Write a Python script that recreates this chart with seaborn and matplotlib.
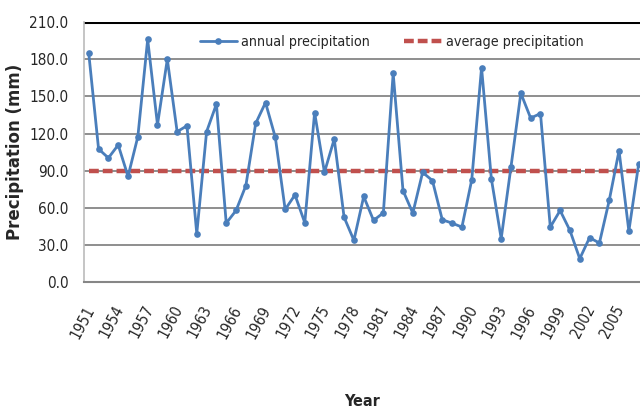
import numpy as np
import pandas as pd
import matplotlib
matplotlib.use("Agg")
import matplotlib.pyplot as plt
import seaborn as sns

years = list(range(1951, 2008))
precip = [184.8, 107.6, 100.3, 110.8, 85.5, 117.5, 196.0, 127.1, 180.0, 121.5,
          126.3, 39.2, 121.5, 143.8, 47.7, 57.9, 78.0, 128.2, 145.0, 116.9,
          58.7, 70.5, 48.0, 137.0, 88.7, 115.6, 52.5, 33.8, 69.2, 49.9,
          56.0, 168.7, 74.0, 55.8, 88.7, 82.0, 50.4, 47.7, 44.5, 82.6,
          173.2, 83.4, 35.2, 93.3, 152.6, 132.5, 136.2, 44.5, 57.9, 41.8,
          19.0, 36.0, 31.6, 66.0, 106.2, 41.3, 95.5]
average = 90.0
y_ticks = [0, 30, 60, 90, 120, 150, 180, 210]
label_years = list(range(1951, 2007, 3))

df = pd.DataFrame({"Year": years, "annual precipitation": precip})
df["average precipitation"] = average

sns.set_style("white")
plt.rcParams['font.family'] = ['DejaVu Sans']
plt.rcParams['font.stretch'] = 'condensed'

fig = plt.figure(figsize=(6.4, 4.09), dpi=100)
ax = fig.add_axes([0.131, 0.31, 0.87, 0.636])

# grid lines
for v in y_ticks[1:-1]:
    ax.axhline(v, color='#868686', lw=1.3, zorder=0)
ax.axhline(210, color='black', lw=2.2, zorder=0)

sns.lineplot(data=df, x="Year", y="average precipitation", ax=ax,
             color='#C0504D', lw=3.2, linestyle=(0, (2.2, 0.9)),
             label="average precipitation", zorder=2)
sns.lineplot(data=df, x="Year", y="annual precipitation", ax=ax,
             color='#4A7EBB', lw=2.0, marker='o', markersize=4.8,
             markeredgewidth=0, label="annual precipitation", zorder=3)

ax.set_xlim(1950.5, 2007.2)
ax.set_ylim(0, 210)
ax.set_yticks(y_ticks)
ax.set_yticklabels([f"{v:.1f}" for v in y_ticks], fontsize=11)
ax.set_xticks([y - 0.5 for y in label_years])
ax.set_xticklabels([str(y) for y in label_years], rotation=62, ha='right',
                   rotation_mode='anchor', fontsize=11)
ax.tick_params(axis='x', direction='out', length=5, color='#868686', pad=10)
ax.tick_params(axis='y', direction='out', length=3, color='#BBBBBB', pad=8)

for s in ['top', 'right']:
    ax.spines[s].set_visible(False)
ax.spines['left'].set_color('#BBBBBB')
ax.spines['left'].set_linewidth(1.2)
ax.spines['bottom'].set_color('#868686')
ax.spines['bottom'].set_linewidth(1.5)

ax.set_xlabel("Year", fontsize=11.5, fontweight='bold', labelpad=38)
ax.set_ylabel("Precipitation (mm)", fontsize=12, fontweight='bold',
              fontstretch='normal', labelpad=4)

h, l = ax.get_legend_handles_labels()
ax.legend(h[::-1], l[::-1], loc='upper center', bbox_to_anchor=(0.553, 1.0),
          ncol=2, frameon=False, fontsize=10.3, handlelength=2.6,
          columnspacing=2.4, handletextpad=0.3)

fig.savefig("out.png", dpi=100)
